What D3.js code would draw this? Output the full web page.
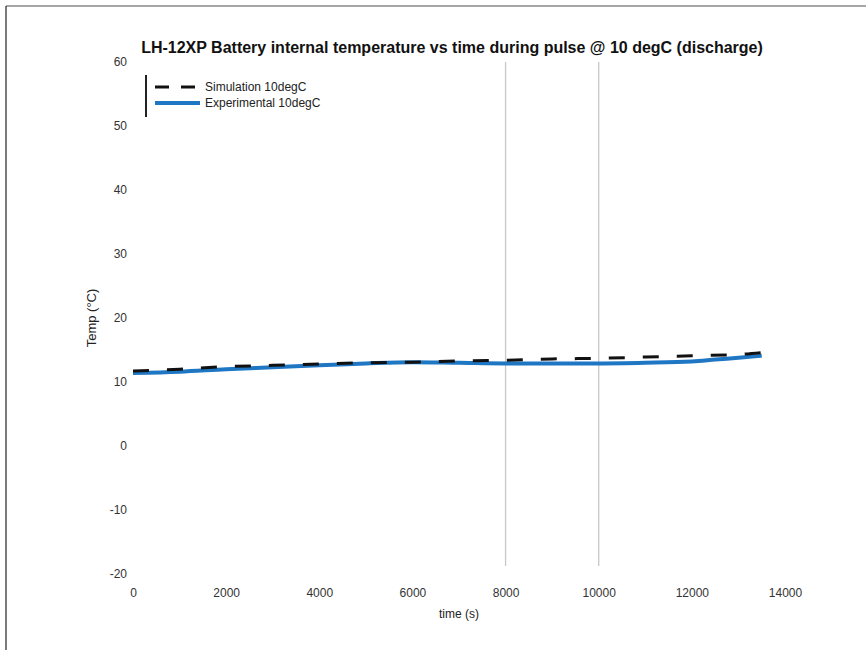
<!DOCTYPE html>
<html><head><meta charset="utf-8">
<script src="https://cdn.jsdelivr.net/npm/d3@7"></script>
<style>
html,body{margin:0;padding:0;background:#fff;}
svg{display:block;font-family:"Liberation Sans",Arial,sans-serif;}
</style></head>
<body>
<svg id="c" width="866" height="650"></svg>
<script>
const title = "LH-12XP Battery internal temperature vs time during pulse @ 10 degC (discharge)";
const xLabel = "time (s)";
const yLabel = "Temp (°C)";
const seriesNames = ["Simulation 10degC", "Experimental 10degC"];
const xTicks = [0, 2000, 4000, 6000, 8000, 10000, 12000, 14000];
const yTicks = [-20, -10, 0, 10, 20, 30, 40, 50, 60];
const markerTimes = [8000, 10000];

const simTime = [0, 1000, 2000, 3000, 4000, 5000, 6000, 7000, 8000, 9000, 10000, 11000, 12000, 13000, 13500];
const simTemp = [11.7, 12.0, 12.4, 12.6, 12.8, 13.0, 13.1, 13.3, 13.4, 13.6, 13.7, 13.9, 14.1, 14.3, 14.6];

const expTime = [0, 1000, 2000, 3000, 4000, 5000, 6000, 7000, 8000, 9000, 10000, 11000, 12000, 12500, 13000, 13500];
const expTemp = [11.4, 11.6, 12.0, 12.3, 12.6, 12.9, 13.1, 13.0, 12.9, 12.9, 12.9, 13.0, 13.2, 13.5, 13.8, 14.1];

const svg = d3.select("#c");
// figure border
svg.append("line").attr("x1",6).attr("x2",866).attr("y1",6).attr("y2",6).attr("stroke","#888").attr("stroke-width",1.5);
svg.append("line").attr("x1",6).attr("x2",6).attr("y1",6).attr("y2",650).attr("stroke","#222").attr("stroke-width",1.2);

const x = d3.scaleLinear().domain([0,14000]).range([133,785]);
const y = d3.scaleLinear().domain([-20,60]).range([574,62]);

const fmt = d => String(d);

// vertical marker lines
svg.selectAll(".vl").data(markerTimes).enter().append("line")
  .attr("x1",d=>x(d)).attr("x2",d=>x(d)).attr("y1",y(60)).attr("y2",y(-20) - 8)
  .attr("stroke","#c8c8c8").attr("stroke-width",1.3);

// axes (ticks only, no domain)
const xa = svg.append("g").attr("transform",`translate(0,${y(-20)})`)
  .call(d3.axisBottom(x).tickValues(xTicks).tickSize(0).tickPadding(14).tickFormat(fmt));
xa.select(".domain").remove();
xa.selectAll("text").attr("font-size",12).attr("fill","#333").attr("font-family","Liberation Sans, Arial, sans-serif");

const ya = svg.append("g").attr("transform",`translate(127,0)`)
  .call(d3.axisLeft(y).tickValues(yTicks).tickSize(0).tickPadding(0).tickFormat(fmt));
ya.select(".domain").remove();
ya.selectAll("text").attr("font-size",12).attr("fill","#333").attr("font-family","Liberation Sans, Arial, sans-serif");

// titles
svg.append("text").attr("x",452).attr("y",53).attr("text-anchor","middle")
  .attr("font-size",16).attr("font-weight","bold").attr("fill","#111").text(title);
svg.append("text").attr("x",459).attr("y",618).attr("text-anchor","middle")
  .attr("font-size",12).attr("fill","#222").text(xLabel);
svg.append("text").attr("transform",`translate(96,318) rotate(-90)`).attr("text-anchor","middle")
  .attr("font-size",13).attr("fill","#222").text(yLabel);

const line = d3.line().curve(d3.curveMonotoneX);

// experimental
svg.append("path").datum(expTime.map((t,i)=>[x(t),y(expTemp[i])]))
  .attr("d",line).attr("fill","none").attr("stroke","#1f77c4").attr("stroke-width",4);
// simulation
svg.append("path").datum(simTime.map((t,i)=>[x(t),y(simTemp[i])]))
  .attr("d",line).attr("fill","none").attr("stroke","#111").attr("stroke-width",3)
  .attr("stroke-dasharray","16,18");

// legend
const lg = svg.append("g");
lg.append("line").attr("x1",146).attr("x2",146).attr("y1",75).attr("y2",117).attr("stroke","#222").attr("stroke-width",2);
lg.append("line").attr("x1",155).attr("x2",200).attr("y1",87).attr("y2",87).attr("stroke","#111").attr("stroke-width",3).attr("stroke-dasharray","14,12");
lg.append("line").attr("x1",155).attr("x2",200).attr("y1",103).attr("y2",103).attr("stroke","#1f77c4").attr("stroke-width",4);
lg.append("text").attr("x",205).attr("y",91).attr("font-size",12).attr("fill","#222").text(seriesNames[0]);
lg.append("text").attr("x",205).attr("y",107).attr("font-size",12).attr("fill","#222").text(seriesNames[1]);
</script>
</body></html>
